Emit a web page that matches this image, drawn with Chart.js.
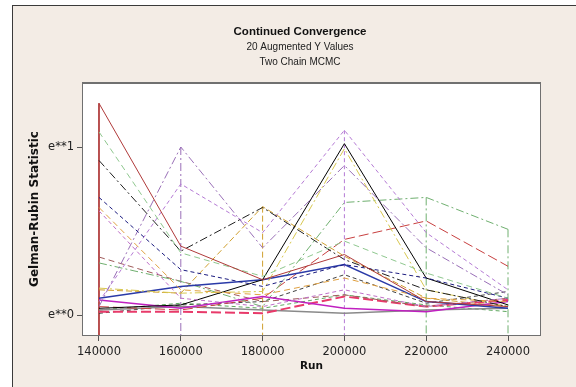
<!DOCTYPE html>
<html>
<head>
<meta charset="utf-8">
<script src="https://cdn.jsdelivr.net/npm/chart.js@4"></script>
<style>
html, body { margin: 0; padding: 0; background: #fff; overflow: hidden; }
#panel { position: absolute; left: 12px; top: 5px; width: 620px; height: 420px; background: #f3ece5; border: 1px solid #3a3a3a; }
#wrap { position: absolute; left: 0; top: 0; width: 576px; height: 387px; }
</style>
</head>
<body>
<div id="panel"></div>
<div id="wrap"><canvas id="chart" width="576" height="387"></canvas></div>
<script>
// x values (run length) and y ticks (natural log of the statistic)
var runs = [140000, 160000, 180000, 200000, 220000, 240000]
var yTicks = [0, 1]

var mainTitle = 'Continued Convergence'
var subTitles = ['20 Augmented Y Values', 'Two Chain MCMC']

// ln(Gelman-Rubin statistic) for each of the 20 augmented Y values
var y01 = [1.26, 0.41, 0.21, 0.36, 0.08, 0.05]
var y02 = [1.09, 0.37, 0.23, 0.44, 0.25, 0.10]
var y03 = [0.92, 0.38, 0.64, 0.33, 0.15, 0.05]
var y04 = [0.70, 0.27, 0.17, 0.30, 0.22, 0.10]
var y05 = [0.64, 0.15, 0.12, 0.22, 0.10, 0.08]
var y06 = [0.62, 0.10, 0.05, 0.15, 0.05, 0.10]
var y07 = [0.05, 1.00, 0.40, 0.89, 0.40, 0.12]
var y08 = [0.08, 0.78, 0.49, 1.10, 0.49, 0.15]
var y09 = [0.16, 0.13, 0.14, 0.99, 0.15, 0.05]
var y10 = [0.04, 0.06, 0.21, 1.02, 0.22, 0.06]
var y11 = [0.10, 0.17, 0.21, 0.30, 0.08, 0.04]
var y12 = [0.09, 0.04, 0.11, 0.04, 0.02, 0.08]
var y13 = [0.31, 0.20, 0.05, 0.67, 0.70, 0.51]
var y14 = [0.05, 0.03, 0.10, 0.45, 0.56, 0.29]
var y15 = [0.345, 0.20, 0.08, 0.12, 0.05, 0.10]
var y16 = [0.02, 0.02, 0.01, 0.11, 0.05, 0.09]
var y17 = [0.03, 0.05, 0.03, 0.01, 0.03, 0.04]
var y18 = [0.03, 0.07, 0.04, 0.12, 0.06, 0.02]
var y19 = [0.15, 0.13, 0.645, 0.35, 0.10, 0.05]
var y20 = [0.01, 0.06, 0.08, 0.24, 0.07, 0.14]

var allSeries = [y01, y02, y03, y04, y05, y06, y07, y08, y09, y10,
                 y11, y12, y13, y14, y15, y16, y17, y18, y19, y20]

var colors = ['#b03a3a', '#8fc88f', '#202020', '#1c1c80', '#e0a040', '#c070c8', '#9a70b8', '#b57ad5', '#d8c850', '#000000',
              '#2a3aa8', '#c020c0', '#70b070', '#c84040', '#a05a5a', '#e83a6a', '#8a8a8a', '#60a860', '#d0a030', '#404040']
var dashes = [[], [6, 4], [8, 3, 2, 3], [4, 3], [6, 4], [4, 3], [8, 3, 2, 3], [4, 3], [8, 3, 2, 3], [],
              [], [], [8, 3, 2, 3], [10, 4], [6, 4], [10, 4], [], [4, 3], [6, 3], [4, 3]]
var widths = [1, 1, 1, 1, 1, 1, 1, 1, 1, 1, 1.5, 1.5, 1, 1, 1, 2, 1.5, 1, 1, 1]

var yMin = -0.125, yMax = 1.387
var xMin = 135844, xMax = 248068

var datasets = []
allSeries.forEach(function (s, i) {
    datasets.push({
        data: runs.map(function (r, j) { return { x: r, y: s[j] } }),
        borderColor: colors[i],
        borderDash: dashes[i],
        borderWidth: widths[i],
        pointRadius: 0,
        tension: 0,
        fill: false
    })
})

// each column drops from its highest value down to the axis floor
runs.forEach(function (r, j) {
    var best = 0
    allSeries.forEach(function (s, i) { if (s[j] > allSeries[best][j]) best = i })
    datasets.push({
        data: [{ x: r, y: allSeries[best][j] }, { x: r, y: yMin }],
        borderColor: colors[best],
        borderDash: dashes[best],
        borderWidth: 1,
        pointRadius: 0,
        fill: false
    })
})

var plotBox = {
    id: 'plotBox',
    beforeDraw: function (chart) {
        var a = chart.chartArea, ctx = chart.ctx
        ctx.save()
        ctx.fillStyle = '#ffffff'
        ctx.fillRect(a.left, a.top, a.right - a.left, a.bottom - a.top)
        ctx.restore()
    },
    afterDatasetsDraw: function (chart) {
        var a = chart.chartArea, ctx = chart.ctx
        ctx.save()
        ctx.strokeStyle = '#707070'
        ctx.lineWidth = 1
        ctx.strokeRect(a.left + 0.5, a.top + 0.5, a.right - a.left - 1, a.bottom - a.top - 1)
        ctx.lineWidth = 2
        ctx.beginPath()
        ctx.moveTo(a.left, a.top + 1)
        ctx.lineTo(a.right, a.top + 1)
        ctx.stroke()
        ctx.restore()
    }
}

// titles are centred on the whole panel, not on the plot
var titleBlock = {
    id: 'titleBlock',
    afterDraw: function (chart) {
        var ctx = chart.ctx
        ctx.save()
        ctx.textAlign = 'center'
        ctx.textBaseline = 'middle'
        ctx.fillStyle = '#111'
        ctx.font = "bold 11.5px 'Liberation Sans'"
        ctx.fillText(mainTitle, 300, 32)
        ctx.font = "10px 'Liberation Sans'"
        ctx.fillStyle = '#222'
        subTitles.forEach(function (t, i) { ctx.fillText(t, 300, 47 + i * 15) })
        ctx.restore()
    }
}

var fam = 'DejaVu Sans'
var ctx = document.getElementById('chart').getContext('2d')
var chart = new Chart(ctx, {
    type: 'line',
    data: { datasets: datasets },
    plugins: [plotBox, titleBlock],
    options: {
        responsive: false,
        animation: false,
        layout: { padding: { top: 82, right: 35, bottom: 0, left: 0 } },
        plugins: {
            legend: { display: false },
            tooltip: { enabled: false }
        },
        scales: {
            x: {
                type: 'linear',
                min: xMin,
                max: xMax,
                afterBuildTicks: function (axis) {
                    axis.ticks = runs.map(function (r) { return { value: r } })
                },
                afterFit: function (axis) { axis.height = 51 },
                ticks: {
                    color: '#222',
                    font: { family: fam, size: 11.5 },
                    padding: 4,
                    maxRotation: 0,
                    callback: function (v) { return String(v) }
                },
                grid: { drawOnChartArea: false, drawTicks: true, tickLength: 5, color: '#555' },
                border: { display: false },
                title: {
                    display: true,
                    text: 'Run',
                    color: '#111',
                    font: { family: fam, size: 10.5, weight: 'bold', lineHeight: 1.2 },
                    padding: { top: 0, bottom: 14 }
                }
            },
            y: {
                type: 'linear',
                min: yMin,
                max: yMax,
                afterBuildTicks: function (axis) {
                    axis.ticks = yTicks.map(function (t) { return { value: t } })
                },
                afterFit: function (axis) { axis.width = 82 },
                ticks: {
                    color: '#222',
                    font: { family: fam, size: 11.5 },
                    padding: 3,
                    callback: function (v) { return 'e**' + v }
                },
                grid: { drawOnChartArea: false, drawTicks: true, tickLength: 5, color: '#555' },
                border: { display: false },
                title: {
                    display: true,
                    text: 'Gelman-Rubin Statistic',
                    color: '#111',
                    font: { family: fam, size: 12, weight: 'bold', lineHeight: 1.2 },
                    padding: { top: 27.8, bottom: 0 }
                }
            }
        }
    }
})
</script>
</body>
</html>
